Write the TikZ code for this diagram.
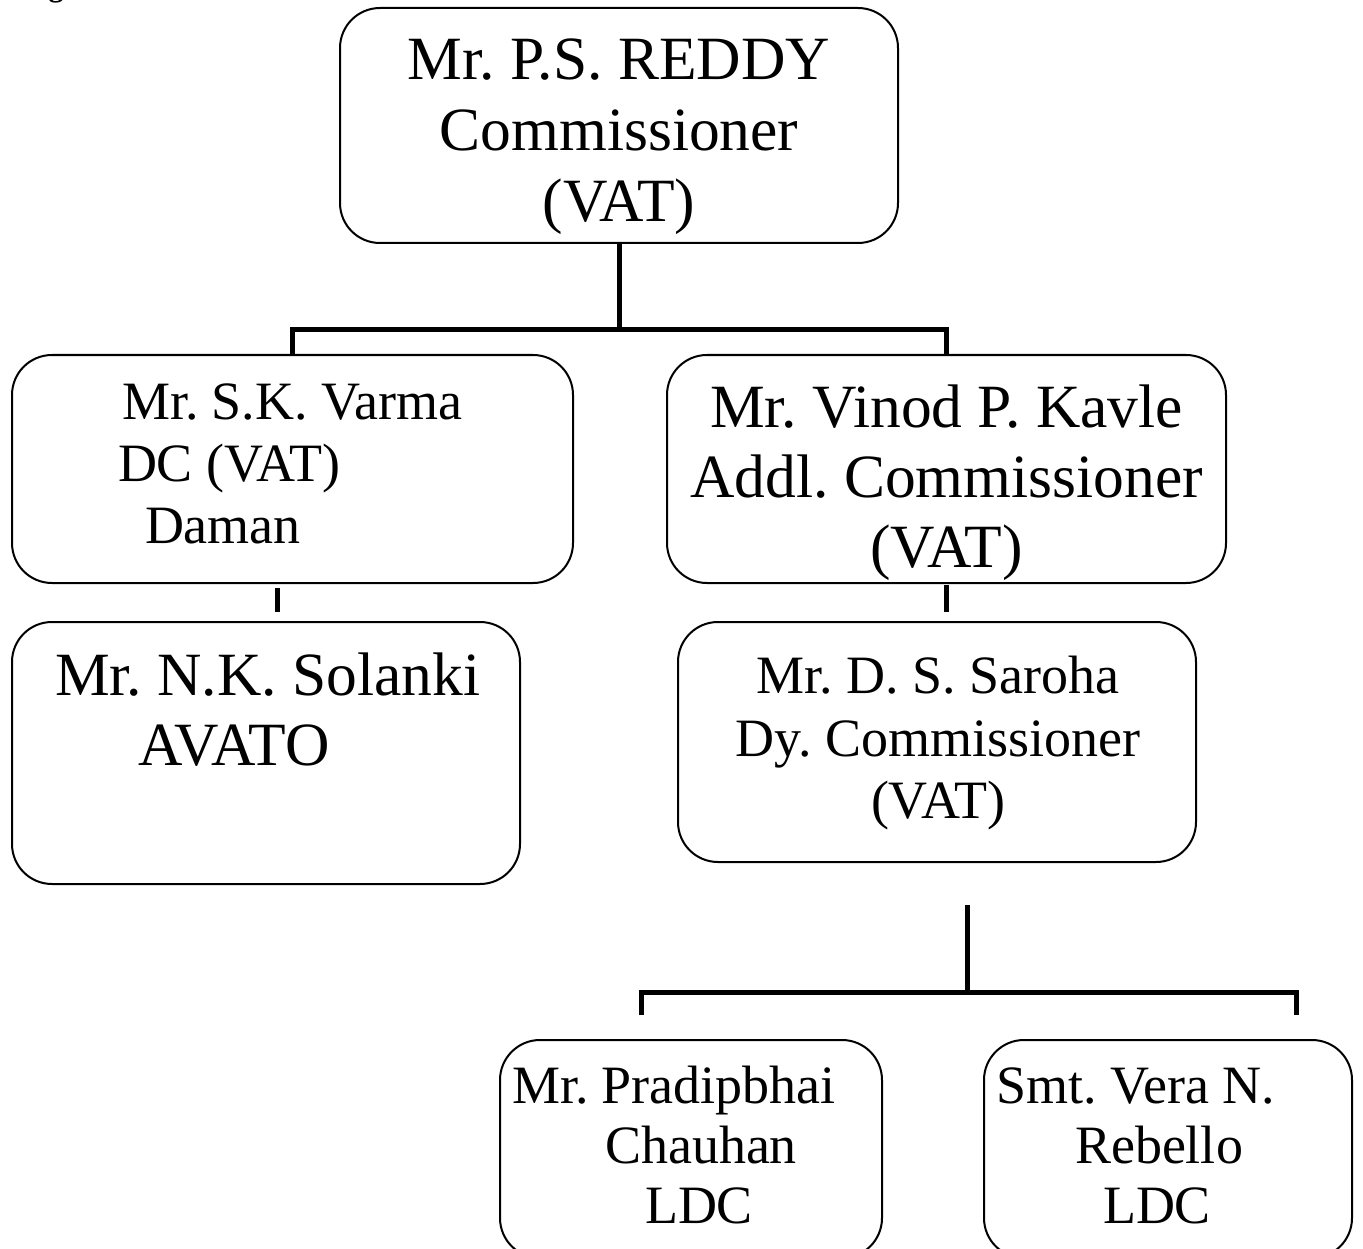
\documentclass[tikz,border=0pt]{standalone}
\usepackage{fontspec}
\setmainfont{Liberation Serif}
\usetikzlibrary{calc}
\frenchspacing
\begin{document}
\frenchspacing
\begin{tikzpicture}[x=1pt,y=-1pt,
  box/.style={draw, rounded corners=40pt, line width=2pt, inner sep=0pt, outer sep=0pt},
  conn/.style={line width=5pt},
  big/.style={font=\fontsize{61.5}{70}\selectfont},
  mid/.style={font=\fontsize{54}{60}\selectfont},
  lt/.style={inner sep=0pt, outer sep=0pt, anchor=base west},
  ct/.style={inner sep=0pt, outer sep=0pt, anchor=base}]
\useasboundingbox (0,0) rectangle (1363,1249);
\begin{scope}
\clip (0,0) rectangle (1363,1249);
% cut-off caption letter
\node[ct, font=\fontsize{30}{36}\selectfont\bfseries] (figg) at (56,-3) {g};

% boxes
\node[box, minimum width=558pt, minimum height=235pt] (top) at (619,125.5) {};
\node[box, minimum width=561pt, minimum height=228pt] (varma) at (292.5,469) {};
\node[box, minimum width=559pt, minimum height=228pt] (kavle) at (946.5,469) {};
\node[box, minimum width=508pt, minimum height=262pt] (solanki) at (266,753) {};
\node[box, minimum width=518pt, minimum height=240pt] (saroha) at (937,742) {};
\node[box, minimum width=382pt, minimum height=218pt] (prad) at (691,1149) {};
\node[box, minimum width=368pt, minimum height=218pt] (rebello) at (1168,1149) {};

% texts
\node[ct, big] (t1) at (619,80) {Mr. P.S. REDDY};
\node[ct, big] (t2) at (619,151) {Commissioner};
\node[ct, big] (t3) at (619,222) {(VAT)};

\node[lt, mid] (v1) at (122,419) {Mr. S.K. Varma};
\node[lt, mid] (v2) at (118,481) {DC (VAT)};
\node[lt, mid] (v3) at (145,543) {Daman};

\node[ct, big] (k1) at (946.5,427) {Mr. Vinod P. Kavle};
\node[ct, big] (k2) at (946.5,497) {Addl. Commissioner};
\node[ct, big] (k3) at (946.5,567) {(VAT)};

\node[lt, big] (s1) at (55,695) {Mr. N.K. Solanki};
\node[lt, big] (s2) at (138,765) {AVATO};

\node[ct, mid] (d1) at (938,693) {Mr. D. S. Saroha};
\node[ct, mid] (d2) at (938,756) {Dy. Commissioner};
\node[ct, mid] (d3) at (938,818) {(VAT)};

\node[lt, mid] (p1) at (512,1103) {Mr. Pradipbhai};
\node[lt, mid] (p2) at (605,1163) {Chauhan};
\node[lt, mid] (p3) at (645,1223) {LDC};

\node[lt, mid] (r1) at (996,1103) {Smt. Vera N.};
\node[lt, mid] (r2) at (1075,1163) {Rebello};
\node[lt, mid] (r3) at (1103,1223) {LDC};

% connectors
\draw[conn] (top.south) -- ($(top.south)+(0,87)$);
\draw[conn] (varma.north) -- ($(varma.north)+(0,-25)$) -- ($(kavle.north)+(0,-25)$) -- (kavle.north);
\draw[conn] ($(varma.south)+(-15.5,5)$) -- ($(solanki.north)+(11,-10)$);
\draw[conn] ($(kavle.south)+(0,2)$) -- ($(saroha.north)+(9.5,-10)$);
\draw[conn] ($(saroha.south)+(30,43)$) -- ($(saroha.south)+(30,130)$);
\draw[conn] ($(prad.north)+(-50,-25)$) -- ($(prad.north)+(-50,-48)$) -- ($(rebello.north)+(128,-48)$) -- ($(rebello.north)+(128,-25)$);
\end{scope}
\end{tikzpicture}
\end{document}
